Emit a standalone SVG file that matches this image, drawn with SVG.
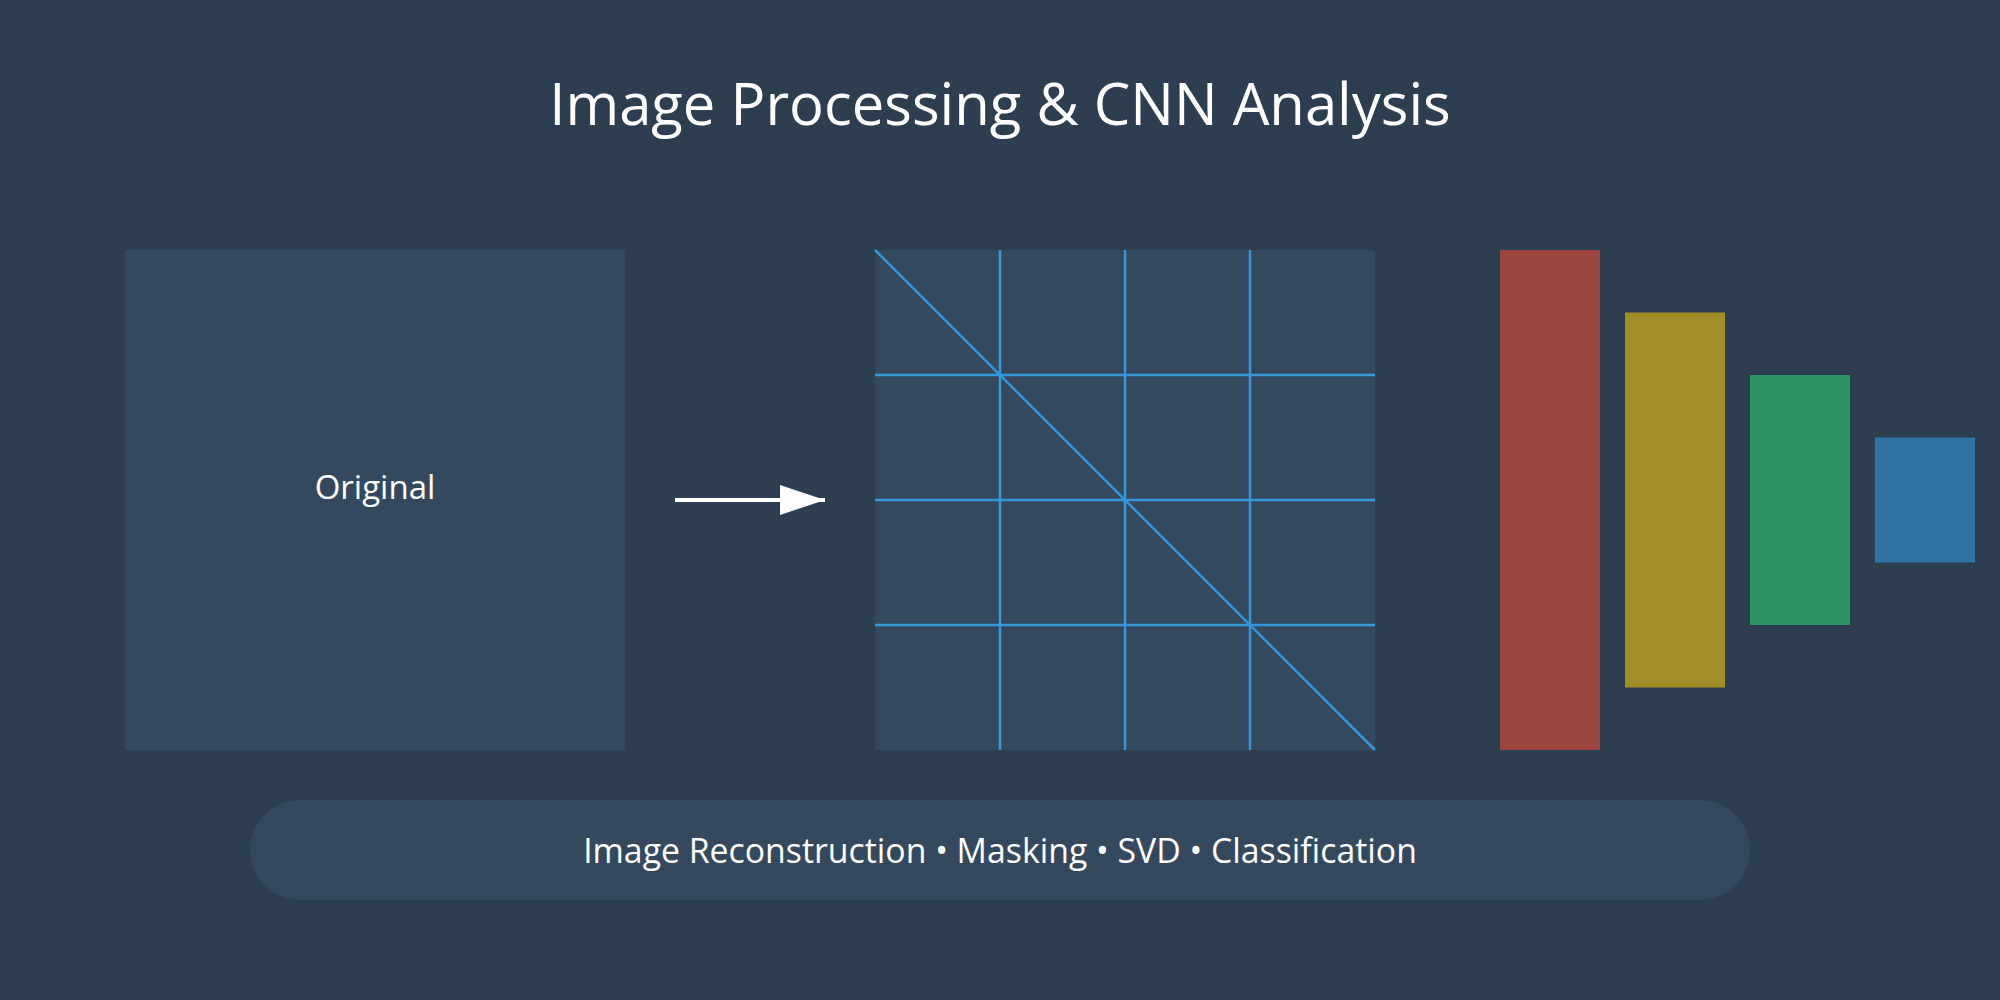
<svg xmlns="http://www.w3.org/2000/svg" width="2000" height="1000" viewBox="0 0 2000 1000">
  <defs>
    <style>
      .bg { fill: #2c3e50; }
      .panel { fill: #34495e; }
      .grid { stroke: #3498db; stroke-width: 2.5; fill: none; }
      .txt { font-family: "Open Sans", "Noto Sans", "DejaVu Sans", sans-serif; fill: #ffffff; text-anchor: middle; }
      .bar { opacity: 0.6; }
    </style>
    <marker id="arrowhead" markerUnits="userSpaceOnUse" markerWidth="45" markerHeight="30" refX="45" refY="15" orient="auto">
      <path d="M0,0 L45,15 L0,30 Z" fill="#ffffff"/>
    </marker>
  </defs>

  <rect class="bg" x="0" y="0" width="2000" height="1000"/>

  <g id="title">
    <text class="txt" x="1000" y="125" font-size="58">Image Processing &amp; CNN Analysis</text>
  </g>

  <g id="original">
    <rect class="panel" x="125" y="250" width="500" height="500"/>
    <text class="txt" x="375" y="499" font-size="33">Original</text>
  </g>

  <g id="svd-grid">
    <rect class="panel" x="875" y="250" width="500" height="500"/>
    <line class="grid" x1="875" y1="375" x2="1375" y2="375"/>
    <line class="grid" x1="875" y1="500" x2="1375" y2="500"/>
    <line class="grid" x1="875" y1="625" x2="1375" y2="625"/>
    <line class="grid" x1="1000" y1="250" x2="1000" y2="750"/>
    <line class="grid" x1="1125" y1="250" x2="1125" y2="750"/>
    <line class="grid" x1="1250" y1="250" x2="1250" y2="750"/>
    <line class="grid" x1="875" y1="250" x2="1375" y2="750"/>
  </g>

  <g id="cnn-layers">
    <rect id="layer1" class="bar" x="1500" y="250" width="100" height="500" fill="#e74c3c"/>
    <rect id="layer2" class="bar" x="1625" y="312.5" width="100" height="375" fill="#f1c40f"/>
    <rect id="layer3" class="bar" x="1750" y="375" width="100" height="250" fill="#2ecc71"/>
    <rect id="layer4" class="bar" x="1875" y="437.5" width="100" height="125" fill="#3498db"/>
  </g>

  <g id="connectors">
    <line x1="675" y1="500" x2="825" y2="500" stroke="#ffffff" stroke-width="4" marker-end="url(#arrowhead)"/>
  </g>

  <g id="caption">
    <rect class="panel" x="250" y="800" width="1500" height="100" rx="50" ry="50"/>
    <text class="txt" x="1000" y="863" font-size="33.8">Image Reconstruction • Masking • SVD • Classification</text>
  </g>
</svg>
